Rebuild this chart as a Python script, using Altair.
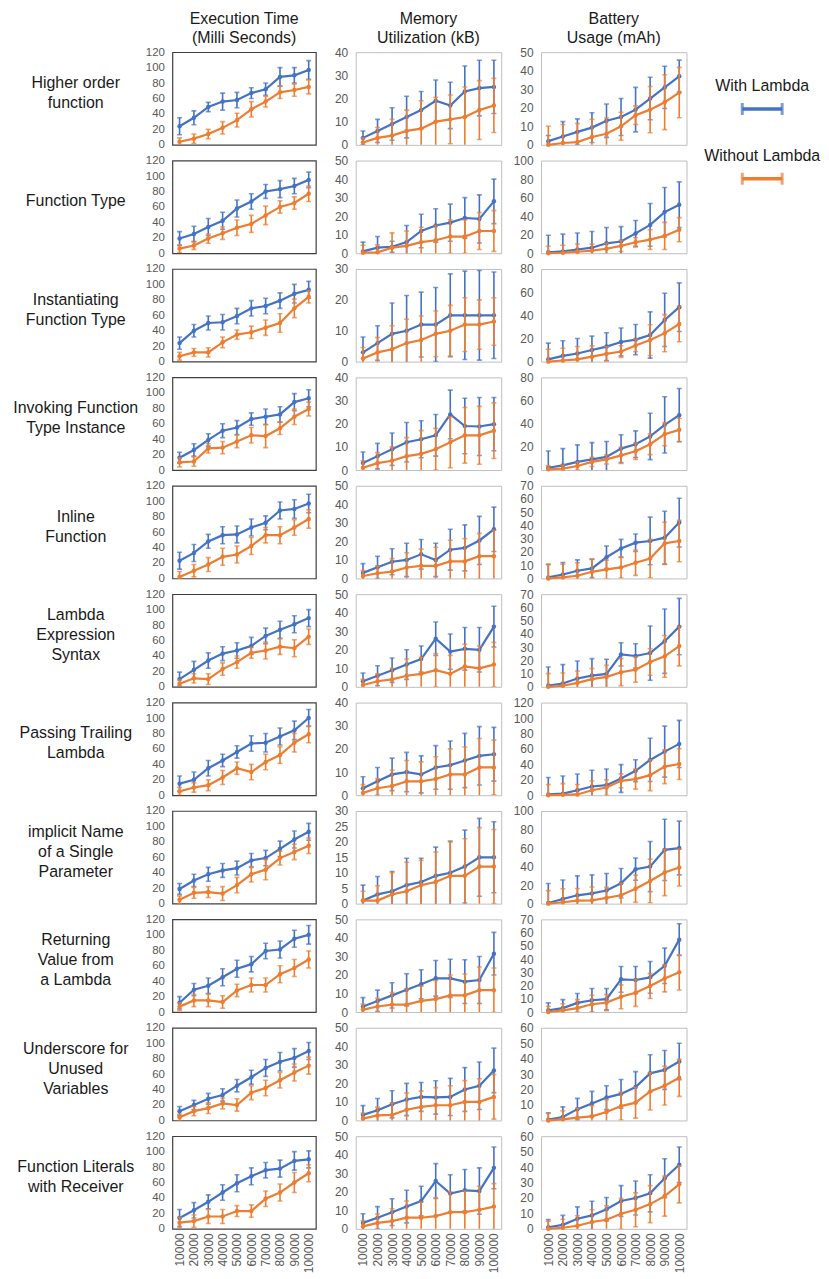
import altair as alt
import pandas as pd

FONT = "Liberation Sans"
BLUE = "#4472C4"
ORANGE = "#ED7D31"
SERIES = ["With Lambda", "Without Lambda"]

x_labels = ["10000", "20000", "30000", "40000", "50000", "60000", "70000", "80000", "90000", "100000"]

row_labels = [
    "Higher order\nfunction", "Function Type", "Instantiating\nFunction Type",
    "Invoking Function\nType Instance", "Inline\nFunction", "Lambda\nExpression\nSyntax",
    "Passing Trailing\nLambda", "implicit Name\nof a Single\nParameter",
    "Returning\nValue from\na Lambda", "Underscore for\nUnused\nVariables",
    "Function Literals\nwith Receiver",
]
col_titles = [["Execution Time", "(Milli Seconds)"], ["Memory", "Utilization (kB)"], ["Battery", "Usage (mAh)"]]

# ---------------- Execution time (ms) ----------------
exec_max = [120] * 11
exec_step = [20] * 11
exec_with = [
    [24, 35, 49, 56, 58, 67, 72, 88, 90, 97],
    [19, 25, 34, 42, 58, 67, 80, 83, 87, 95],
    [24, 40, 50, 51, 59, 69, 72, 79, 88, 93],
    [16, 26, 39, 51, 55, 66, 69, 72, 88, 93],
    [23, 33, 48, 56, 57, 66, 72, 88, 90, 97],
    [10, 22, 34, 43, 47, 53, 66, 74, 81, 89],
    [15, 20, 35, 45, 56, 67, 68, 76, 84, 100],
    [19, 30, 38, 43, 46, 56, 59, 71, 83, 93],
    [12, 29, 34, 45, 56, 62, 79, 81, 95, 100],
    [12, 20, 28, 33, 45, 56, 68, 76, 81, 90],
    [14, 24, 35, 47, 59, 68, 76, 78, 88, 90],
]
exec_with_err = [
    [11, 9, 6, 11, 10, 7, 8, 12, 10, 12],
    [9, 10, 11, 11, 11, 10, 9, 11, 10, 10],
    [8, 8, 9, 10, 10, 10, 10, 10, 12, 11],
    [7, 8, 8, 9, 9, 8, 10, 10, 11, 11],
    [11, 11, 9, 11, 11, 11, 9, 11, 12, 12],
    [9, 11, 10, 9, 10, 11, 10, 11, 11, 11],
    [10, 10, 10, 8, 8, 10, 12, 11, 12, 11],
    [7, 8, 9, 9, 9, 9, 10, 10, 11, 11],
    [8, 8, 10, 11, 11, 10, 10, 11, 11, 12],
    [6, 6, 7, 8, 8, 9, 11, 12, 12, 11],
    [11, 10, 9, 10, 11, 11, 10, 11, 12, 11],
]
exec_without = [
    [4, 8, 14, 22, 32, 46, 56, 68, 71, 75],
    [6, 10, 19, 26, 33, 38, 49, 60, 65, 77],
    [7, 12, 12, 25, 35, 38, 44, 50, 69, 84],
    [10, 11, 28, 29, 37, 45, 44, 54, 69, 79],
    [2, 10, 18, 28, 31, 42, 56, 56, 66, 77],
    [4, 11, 10, 23, 32, 44, 47, 52, 50, 65],
    [5, 10, 13, 23, 35, 30, 43, 52, 68, 79],
    [5, 14, 15, 13, 24, 38, 44, 59, 67, 75],
    [7, 15, 15, 13, 28, 35, 35, 49, 57, 68],
    [4, 12, 16, 22, 20, 36, 42, 52, 62, 71],
    [8, 10, 16, 16, 23, 23, 39, 47, 60, 72],
]
exec_without_err = [
    [5, 6, 6, 8, 9, 10, 7, 8, 8, 9],
    [5, 5, 6, 8, 10, 11, 12, 8, 8, 10],
    [5, 5, 6, 7, 6, 8, 10, 12, 12, 8],
    [6, 6, 6, 8, 8, 10, 15, 8, 10, 9],
    [7, 8, 9, 11, 11, 11, 10, 11, 10, 12],
    [5, 6, 7, 8, 8, 7, 11, 10, 11, 10],
    [5, 6, 7, 9, 8, 10, 10, 11, 12, 11],
    [5, 7, 7, 9, 10, 10, 13, 9, 10, 10],
    [5, 8, 8, 8, 8, 9, 9, 11, 11, 11],
    [4, 6, 7, 7, 8, 9, 10, 10, 11, 11],
    [7, 8, 9, 9, 7, 8, 10, 11, 13, 11],
]

# ---------------- Memory utilization (kB) ----------------
mem_max = [40, 50, 30, 40, 50, 50, 40, 30, 50, 50, 50]
mem_step = [10, 10, 10, 10, 10, 10, 10, 5, 10, 10, 10]
mem_with = [
    [3, 6, 9, 12, 15, 19, 17, 23, 24.5, 25],
    [1, 3, 3.5, 6, 12, 15, 16.5, 19, 18.5, 28],
    [3, 6, 9, 10, 12, 12, 15, 15, 15, 15],
    [3, 6, 9, 12, 13.3, 15, 24, 19, 18.8, 19.8],
    [3, 6, 9, 10, 13, 10, 15.5, 16.5, 20.5, 26.5],
    [3, 6, 9, 12, 15, 26, 19, 20.5, 20, 32.5],
    [3, 6, 9, 10, 9, 12, 13, 15, 17, 17.7],
    [1, 3, 4, 6, 7, 9, 10, 12, 15, 15],
    [3, 6, 9, 12, 15, 18.2, 18.2, 16.4, 17.3, 31.5],
    [3, 5.5, 8.7, 11.3, 12.7, 12.4, 12.7, 16.7, 18.7, 27],
    [3.2, 6, 9, 12, 15, 25.8, 19, 20.8, 20.4, 32.9],
]
mem_with_err = [
    [3, 5, 7, 9, 8, 9, 10, 11, 12, 11.5],
    [5, 6, 3, 9, 9, 9, 10, 11, 13, 12],
    [5, 5.6, 10, 11.4, 10.5, 12, 13.4, 14.3, 14.5, 14],
    [4.8, 5.5, 7, 8.5, 8, 9, 10.5, 12, 12.5, 11.5],
    [5, 6, 7, 9, 8, 9, 11, 12.4, 13, 12],
    [4.5, 5.4, 6.6, 8, 7, 9, 9.5, 11.5, 12, 11],
    [5, 6, 7, 8.5, 8, 9.4, 10.4, 11.7, 12.6, 11.6],
    [5, 5.8, 6.4, 8.7, 7.7, 9.3, 10.3, 11.8, 12.6, 11.5],
    [4.8, 5.8, 6.8, 8.7, 7.8, 9.6, 10.3, 11.8, 12.7, 11.5],
    [5, 6.3, 7.3, 8.7, 7.8, 9, 10, 11.8, 12.8, 12],
    [4.9, 6, 7.2, 8.8, 8, 9.4, 10.2, 11.2, 12.5, 11.3],
]
mem_without = [
    [1, 3, 4, 6, 7, 10, 11, 12, 15, 17],
    [0.3, 0.5, 3, 4, 6, 7, 9, 9, 12, 12],
    [1, 3, 4, 6, 7, 9, 10, 12, 12, 13],
    [1, 3, 4, 6, 7, 9, 12, 15, 15, 17],
    [1.3, 2.8, 3.7, 5.9, 6.8, 6.8, 9.2, 9.2, 12, 12],
    [1, 3, 4, 6, 7, 9, 7, 11, 10, 12],
    [1, 3, 4, 6, 6, 7, 9, 9, 12, 12],
    [1, 1, 3, 4, 6, 7, 9, 9, 12, 12],
    [1.3, 3, 4, 4, 6, 7, 9, 9, 11.8, 11.8],
    [1, 2.7, 3, 5.8, 7.3, 8.2, 8.2, 10, 10, 12.7],
    [1.3, 3.2, 4.2, 6, 6, 6.9, 9, 9, 10.3, 12],
]
mem_without_err = [
    [2, 4.5, 7, 9, 12, 10.5, 10.5, 13, 12.7, 11.7],
    [4, 4, 8, 8, 8, 8, 9, 9, 10, 11],
    [3.6, 4.8, 7.6, 7.7, 7.8, 7.4, 8.2, 8.7, 8, 7.7],
    [3, 4.5, 6, 8, 10, 9, 11, 12, 12.5, 12],
    [3, 4, 7, 8, 9, 10, 11.4, 12.3, 12.3, 14],
    [3, 4, 6, 9, 9, 9, 10, 12, 12, 12],
    [3.6, 4.2, 6.8, 9, 8.4, 9.6, 11, 11.8, 12.5, 11.8],
    [3, 4.8, 7, 9.4, 8, 9.7, 11, 12, 12.6, 12],
    [3, 4.4, 6.5, 8.5, 8, 10, 11, 11.5, 12.5, 12],
    [3, 4.5, 6.5, 9, 8.5, 9.5, 10.5, 11.5, 12.5, 12],
    [3.2, 4.8, 6.6, 9, 8.4, 10, 11, 11.4, 12.7, 12.4],
]

# ---------------- Battery usage (mAh) ----------------
bat_max = [50, 100, 80, 80, 70, 70, 120, 100, 70, 60, 60]
bat_step = [10, 20, 20, 20, 10, 10, 20, 20, 10, 10, 10]
bat_with = [
    [2, 4.5, 7, 9.3, 13, 15, 19, 25, 31, 37],
    [1, 2, 4, 6, 10.7, 12.7, 21.4, 30.6, 44.4, 52.4],
    [2, 5, 7, 10, 13, 17, 19, 23, 36, 47],
    [2, 4, 7, 9.2, 11.3, 18.5, 22.3, 29, 39, 47.4],
    [0.8, 3, 5.8, 7.6, 16, 22.7, 27, 28.3, 30.8, 42.2],
    [1, 2.5, 6.3, 8.5, 9.8, 24.5, 23.3, 25.5, 34.5, 45.5],
    [1, 2, 6.5, 11.3, 13, 21.7, 31.7, 45.7, 56.5, 66.5],
    [0.7, 5, 9, 11, 14.2, 22, 37.2, 40, 58, 60],
    [1.3, 3, 6.9, 8.9, 9.7, 24.7, 24.2, 26.2, 34.9, 54.7],
    [0.5, 2.2, 7.3, 11, 14.8, 17.2, 21.6, 30.5, 32.7, 38.2],
    [1, 2.6, 6.5, 8.7, 12.7, 18, 20, 23, 32.8, 41.5],
]
bat_with_err = [
    [3, 8, 7, 8, 9, 10, 12, 11.5, 11.4, 8.7],
    [18.4, 18.6, 17.8, 17.4, 17, 16, 14, 23, 26.6, 24.6],
    [14, 13, 13, 12, 12, 12, 13, 20, 23, 21],
    [14.5, 14.5, 14.7, 14.5, 13.3, 12, 11.5, 20, 24.3, 23],
    [9.8, 9, 8.2, 7, 8.5, 6.8, 6.6, 18, 20, 18.4],
    [14, 14.3, 13.2, 12.8, 11, 8.8, 9.2, 20.5, 24.3, 21.3],
    [22, 23, 21, 21, 21, 18, 14.3, 28, 33, 30.5],
    [21, 20.5, 21, 20, 18.3, 16, 12, 27, 33, 29],
    [5.6, 6.4, 7.1, 8.9, 8.1, 9.7, 10.2, 12, 13.4, 12],
    [4.5, 6.6, 7, 7.8, 7.7, 9.3, 10, 12, 12.6, 11.8],
    [5, 6.1, 7.7, 9.2, 7.6, 10, 11, 12, 12.6, 11.5],
]
bat_without = [
    [0, 1, 1.5, 4.2, 6, 10, 16, 19, 23, 28.2],
    [0, 0.5, 1.6, 2.8, 4.8, 7.9, 11.9, 14.7, 18.7, 25.4],
    [0, 1, 2, 4.3, 6.7, 8.7, 14, 18.6, 24.6, 32.5],
    [0.6, 1.2, 3.5, 7, 9.2, 12.7, 16.2, 22.3, 31, 34.7],
    [0, 0.8, 2, 5, 6.8, 8.3, 11.9, 15, 26.5, 28.3],
    [0, 0.8, 3, 5.8, 7.5, 11, 13, 18.8, 23, 30.8],
    [0, 0.5, 1, 6.5, 10, 18.7, 20.9, 26, 37, 40.4],
    [0, 1.5, 3.3, 3.6, 6.2, 9, 16, 24.5, 33.6, 39],
    [0, 1.3, 3, 5.9, 7.1, 11.5, 14.5, 19.6, 25.4, 30],
    [0, 0.7, 1.8, 2.6, 5.5, 9.3, 11.5, 18.8, 22.5, 27.6],
    [0, 0.7, 2, 4.4, 5.9, 9.8, 12.4, 16, 21.2, 28.8],
]
bat_without_err = [
    [10, 10, 10, 9.6, 8.5, 7.5, 5, 12.5, 14.8, 13.6],
    [7.5, 8.2, 8.3, 7, 6, 6, 5, 10.7, 14.6, 13],
    [10.7, 10.6, 11, 9.3, 6.3, 5, 5.4, 13.3, 16, 15.3],
    [3, 3, 3.5, 4, 4, 7, 7, 9, 10, 10],
    [10.6, 10, 9.9, 9.4, 7, 8, 9.6, 14.5, 16, 15.7],
    [10, 9.7, 9, 8, 8.8, 10.3, 9.5, 10, 15.8, 15],
    [14, 14.5, 13, 12, 10, 9, 13, 20, 22, 20],
    [14, 14.5, 13, 14.4, 11.3, 13, 14.6, 23.5, 25, 20],
    [4.3, 5, 6.4, 6.8, 6.1, 9, 10.2, 9.4, 10.2, 13.3],
    [4.5, 5.5, 6, 7, 8, 9, 10, 12, 12.5, 12],
    [5, 5.5, 6.5, 8, 9, 10, 11, 12, 13, 12],
]

metrics = [
    (exec_with, exec_with_err, exec_without, exec_without_err, exec_max, exec_step),
    (mem_with, mem_with_err, mem_without, mem_without_err, mem_max, mem_step),
    (bat_with, bat_with_err, bat_without, bat_without_err, bat_max, bat_step),
]

PANEL_H = 93
PANEL_W = [144, 146, 146]
STROKES = ["#404040", "#bfbfbf", "#bfbfbf"]
LABEL_GRAY = "#595959"
TEXT = "#1a1a1a"
LABEL_LINE_H = 20

color = alt.Color("series:N", scale=alt.Scale(domain=SERIES, range=[BLUE, ORANGE]), legend=None)


def panel(wv, we, ov, oe, ymax, ystep, col, last, title=None):
    rows = []
    for s, vals, errs in ((SERIES[0], wv, we), (SERIES[1], ov, oe)):
        for x, v, e in zip(x_labels, vals, errs):
            rows.append({"x": x, "series": s, "value": v, "lo": v - e, "hi": v + e})
    df = pd.DataFrame(rows)

    if last:
        xaxis = alt.Axis(labelAngle=270, ticks=False, domain=False, grid=False, title=None,
                         labelColor=LABEL_GRAY, labelFontSize=12, labelFont=FONT, labelPadding=4)
    else:
        xaxis = None
    xenc = alt.X("x:O", sort=x_labels, scale=alt.Scale(type="point", padding=0.5), axis=xaxis, title=None)
    yscale = alt.Scale(domain=[0, ymax], nice=False, zero=True)
    yaxis = alt.Axis(values=list(range(0, ymax + 1, ystep)), ticks=False, domain=False, grid=False,
                     title=None, labelColor=LABEL_GRAY, labelFontSize=11.5 if col == 0 else 12,
                     labelFont=FONT, labelPadding=8)

    layers = []
    for s in SERIES:
        base = alt.Chart(df).transform_filter(alt.datum.series == s)
        rule = base.mark_rule(strokeWidth=1.6, clip=True).encode(
            x=xenc, y=alt.Y("lo:Q", scale=yscale, axis=yaxis, title=None), y2="hi:Q", color=color)
        cap_lo = base.mark_tick(thickness=1.6, size=5, clip=True).encode(
            x=xenc, y=alt.Y("lo:Q", scale=yscale, axis=yaxis, title=None), color=color)
        cap_hi = base.mark_tick(thickness=1.6, size=5, clip=True).encode(
            x=xenc, y=alt.Y("hi:Q", scale=yscale, axis=yaxis, title=None), color=color)
        line = base.mark_line(strokeWidth=2.2).encode(
            x=xenc, y=alt.Y("value:Q", scale=yscale, axis=yaxis, title=None), color=color)
        pts = base.mark_circle(size=20, opacity=1).encode(
            x=xenc, y=alt.Y("value:Q", scale=yscale, axis=yaxis, title=None), color=color)
        layers += [rule, cap_lo, cap_hi, line, pts]

    props = dict(width=PANEL_W[col], height=PANEL_H,
                 view=alt.ViewBackground(stroke=STROKES[col], strokeWidth=1.2 if col == 0 else 1))
    if title is not None:
        props["title"] = alt.TitleParams(text=title, fontSize=16, fontWeight="normal", font=FONT,
                                         color=TEXT, anchor="middle", offset=0, lineHeight=19)
    return alt.layer(*layers).properties(**props)


def label_chart(text):
    n_lines = text.count("\n") + 1
    df = pd.DataFrame({"label": [text]})
    return alt.Chart(df).mark_text(font=FONT, fontSize=16, lineBreak="\n", align="center",
                                   baseline="middle", lineHeight=LABEL_LINE_H, color=TEXT).encode(
        text="label:N", x=alt.value(67), y=alt.value(41 - (n_lines - 1) * LABEL_LINE_H / 2)
    ).properties(width=124, height=PANEL_H, view=alt.ViewBackground(stroke="transparent"))


def blank_chart():
    df = pd.DataFrame({"label": [""]})
    return alt.Chart(df).mark_text().encode(text="label:N", x=alt.value(0), y=alt.value(0)).properties(
        width=56, height=PANEL_H, view=alt.ViewBackground(stroke="transparent"))


# legend (drawn as an error-bar symbol per series)
leg_df = pd.DataFrame({"series": SERIES, "lo": [0, 0], "hi": [1, 1]})
yleg = alt.Y("series:N", sort=SERIES, scale=alt.Scale(type="point", range=[57, 127], padding=0), axis=None)
xleg_scale = alt.Scale(domain=[-0.4, 1])
leg_bar = alt.Chart(leg_df).mark_rule(strokeWidth=3.5).encode(
    x=alt.X("lo:Q", scale=xleg_scale, axis=None), x2="hi:Q", y=yleg, color=color)
leg_cap1 = alt.Chart(leg_df).mark_tick(thickness=3, size=12).encode(
    x=alt.X("lo:Q", scale=xleg_scale, axis=None), y=yleg, color=color)
leg_cap2 = alt.Chart(leg_df).mark_tick(thickness=3, size=12).encode(
    x=alt.X("hi:Q", scale=xleg_scale, axis=None), y=yleg, color=color)
leg_text = alt.Chart(leg_df).mark_text(dy=-23, fontSize=16, font=FONT, color=TEXT).encode(
    x=alt.value(36), y=yleg, text="series:N")
legend = alt.layer(leg_bar, leg_cap1, leg_cap2, leg_text).properties(
    width=56, height=PANEL_H, view=alt.ViewBackground(stroke="transparent"))

cells = []
for r in range(11):
    cells.append(label_chart(row_labels[r]))
    for c, (wv, we, ov, oe, ymx, yst) in enumerate(metrics):
        cells.append(panel(wv[r], we[r], ov[r], oe[r], ymx[r], yst[r], c, r == 10,
                           title=col_titles[c] if r == 0 else None))
    cells.append(legend if r == 0 else blank_chart())

chart = alt.concat(*cells, columns=5, spacing={"row": 15.8, "column": 40}, bounds="flush").properties(
    padding=0, background="white")

chart.save("out.html", embed_options={"renderer": "svg", "actions": False})
